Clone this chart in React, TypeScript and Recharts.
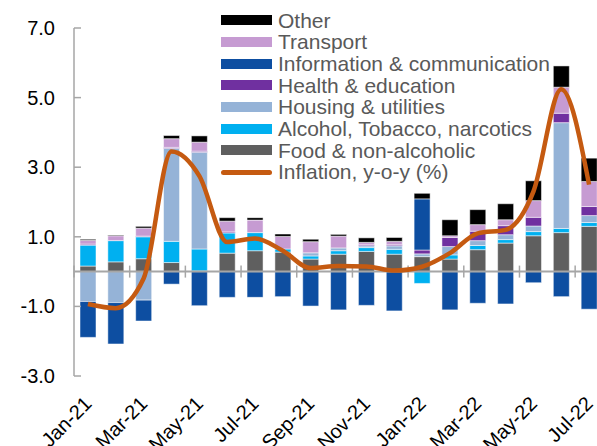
import { ComposedChart, Bar, Line, XAxis, YAxis, ReferenceLine } from "recharts";

const months = [
  "Jan-21", "Feb-21", "Mar-21", "Apr-21", "May-21", "Jun-21", "Jul-21", "Aug-21", "Sep-21", "Oct-21",
  "Nov-21", "Dec-21", "Jan-22", "Feb-22", "Mar-22", "Apr-22", "May-22", "Jun-22", "Jul-22",
];

const food = [0.16, 0.28, 0.37, 0.26, 0.02, 0.53, 0.6, 0.56, 0.36, 0.5, 0.58, 0.5, 0.43, 0.36, 0.63, 0.82, 1.03, 1.12, 1.3];
const alcohol = [0.6, 0.61, 0.63, 0.61, 0.63, 0.58, 0.52, 0.09, 0.09, 0.1, 0.11, 0.14, -0.34, 0.12, 0.12, 0.1, 0.12, 0.12, 0.11];
const housing = [-0.86, -0.89, -0.82, 2.67, 2.78, 0, 0, 0, 0.09, 0.08, 0.05, 0.1, 0.08, 0.24, 0.14, 0.14, 0.16, 3.04, 0.2];
const health = [0.03, 0, 0.02, 0.03, 0.03, 0.03, 0, 0, 0, 0, 0.03, 0.03, 0.11, 0.26, 0.27, 0.26, 0.25, 0.27, 0.26];
const info = [-1.03, -1.19, -0.6, -0.36, -0.98, -0.74, -0.74, -0.72, -0.99, -1.1, -0.97, -1.13, 1.47, -1.1, -0.91, -0.93, -0.32, -0.72, -1.08];
const transport = [0.11, 0.14, 0.23, 0.25, 0.26, 0.31, 0.36, 0.36, 0.32, 0.34, 0.07, 0.1, 0, 0.05, 0.19, 0.17, 0.48, 0.75, 0.72];
const other = [0.03, 0.02, 0.05, 0.09, 0.18, 0.1, 0.07, 0.07, 0.07, 0.05, 0.13, 0.11, 0.16, 0.46, 0.43, 0.46, 0.57, 0.61, 0.67];
const inflation = [-0.93, -1.05, -0.2, 3.45, 2.75, 0.85, 0.95, 0.6, 0.1, 0.16, 0.15, 0.03, 0.14, 0.53, 1.1, 1.2, 2.3, 5.24, 2.5];

const yTicks = [-3, -1, 1, 3, 5, 7];

// stacking order, bottom up
const series = [
  { key: "food", name: "Food & non-alcoholic", color: "#5F5F5F", values: food },
  { key: "alcohol", name: "Alcohol, Tobacco, narcotics", color: "#00B0F0", values: alcohol },
  { key: "housing", name: "Housing & utilities", color: "#95B3D7", values: housing },
  { key: "health", name: "Health & education", color: "#7030A0", values: health },
  { key: "info", name: "Information & communication", color: "#0D4EA1", values: info },
  { key: "transport", name: "Transport", color: "#C69BD2", values: transport },
  { key: "other", name: "Other", color: "#000000", values: other },
];

const LINE_COLOR = "#C55A11";
const AXIS_COLOR = "#A6A6A6";
const FONT = "'Liberation Sans', Arial, sans-serif";

const data = months.map((m, i) => {
  const row: Record<string, string | number> = { month: m, inflation: inflation[i] };
  series.forEach((s) => {
    row[s.key] = s.values[i];
  });
  return row;
});

function YTick(props: any) {
  const { x, y, payload } = props;
  const axisX = x + 19;
  return (
    <g>
      <line x1={axisX} x2={axisX + 7} y1={y} y2={y} stroke={AXIS_COLOR} strokeWidth={1.5} />
      <text x={x} y={y} textAnchor="end" dominantBaseline="central" fontSize={20} fill="#000" fontFamily={FONT}>
        {Number(payload.value).toFixed(1)}
      </text>
    </g>
  );
}

function XTick(props: any) {
  const { x, y, payload } = props;
  return (
    <text
      x={0}
      y={0}
      transform={`translate(${x + 5},${y + 27}) rotate(-45)`}
      textAnchor="end"
      fontSize={20}
      fill="#000"
      fontFamily={FONT}
    >
      {payload.value}
    </text>
  );
}

// horizontal axis sits at zero, tick marks every two months
function ZeroAxis(props: any) {
  const { x1, x2, y1 } = props;
  const band = (x2 - x1) / months.length;
  const marks: number[] = [];
  for (let k = 0; k <= months.length; k += 2) marks.push(x1 + k * band);
  return (
    <g>
      <line x1={x1} x2={x2} y1={y1} y2={y1} stroke={AXIS_COLOR} strokeWidth={2} />
      {marks.map((mx) => (
        <line key={mx} x1={mx} x2={mx} y1={y1 - 6} y2={y1 + 6} stroke={AXIS_COLOR} strokeWidth={1.5} />
      ))}
    </g>
  );
}

function LegendBox() {
  const items = [...series].reverse();
  return (
    <div
      style={{
        position: "absolute",
        left: 221,
        top: 9.5,
        fontFamily: FONT,
        fontSize: 21,
        color: "#595959",
        lineHeight: "21.7px",
      }}
    >
      {items.map((s) => (
        <div key={s.key} style={{ display: "flex", alignItems: "center", height: 21.7, whiteSpace: "nowrap" }}>
          <span style={{ display: "inline-block", width: 51, height: 10, background: s.color, marginRight: 6 }} />
          <span>{s.name}</span>
        </div>
      ))}
      <div style={{ display: "flex", alignItems: "center", height: 21.7, whiteSpace: "nowrap" }}>
        <span
          style={{ display: "inline-block", width: 51, height: 5, borderRadius: 3, background: LINE_COLOR, marginRight: 6 }}
        />
        <span>Inflation, y-o-y (%)</span>
      </div>
    </div>
  );
}

export default function App() {
  return (
    <div
      style={{
        position: "fixed",
        left: 0,
        top: 0,
        width: 597,
        height: 446,
        overflow: "hidden",
        background: "#fff",
      }}
    >
      <ComposedChart
        width={603}
        height={446}
        data={data}
        stackOffset="sign"
        margin={{ top: 28, right: 0, bottom: 0, left: 0 }}
      >
        <XAxis
          dataKey="month"
          height={70}
          interval={1}
          axisLine={false}
          tickLine={false}
          tickSize={0}
          tick={<XTick />}
        />
        <YAxis
          width={74}
          domain={[-3, 7]}
          ticks={yTicks}
          axisLine={{ stroke: AXIS_COLOR, strokeWidth: 1.5 }}
          tickLine={false}
          tickSize={0}
          tickMargin={19}
          tick={<YTick />}
        />
        {series.map((s) => (
          <Bar
            key={s.key}
            dataKey={s.key}
            name={s.name}
            stackId="a"
            fill={s.color}
            barSize={16}
            stroke="#ffffff"
            strokeWidth={0.5}
            isAnimationActive={false}
          />
        ))}
        <ReferenceLine y={0} shape={<ZeroAxis />} />
        <Line
          dataKey="inflation"
          name="Inflation, y-o-y (%)"
          type="monotone"
          stroke={LINE_COLOR}
          strokeWidth={4.5}
          dot={false}
          activeDot={false}
          isAnimationActive={false}
        />
      </ComposedChart>
      <LegendBox />
    </div>
  );
}
